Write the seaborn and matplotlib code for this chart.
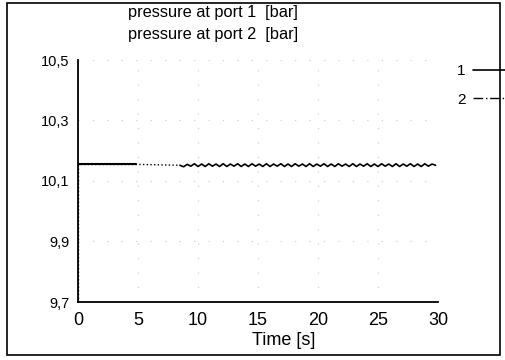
import numpy as np
import pandas as pd
import matplotlib
matplotlib.use("Agg")
import matplotlib.pyplot as plt
import seaborn as sns
from matplotlib.ticker import MultipleLocator
from matplotlib.lines import Line2D
from matplotlib.patches import Rectangle

# data
t_start = [0.0, 0.0, 4.8]
p1_start = [10.155, 10.155, 10.155]
p2_start = [9.7, 10.155, 10.155]

t_mid = [4.8, 8.5]
p2_mid = [10.155, 10.152]

t_wave = [8.5, 8.8, 9.1, 9.4, 9.7, 10.0, 10.3, 10.6, 10.9, 11.2, 11.5, 11.8,
          12.1, 12.4, 12.7, 13.0, 13.3, 13.6, 13.9, 14.2, 14.5, 14.8, 15.1, 15.4,
          15.7, 16.0, 16.3, 16.6, 16.9, 17.2, 17.5, 17.8, 18.1, 18.4, 18.7, 19.0,
          19.3, 19.6, 19.9, 20.2, 20.5, 20.8, 21.1, 21.4, 21.7, 22.0, 22.3, 22.6,
          22.9, 23.2, 23.5, 23.8, 24.1, 24.4, 24.7, 25.0, 25.3, 25.6, 25.9, 26.2,
          26.5, 26.8, 27.1, 27.4, 27.7, 28.0, 28.3, 28.6, 28.9, 29.2, 29.5, 29.8]
p_wave = [10.152, 10.147, 10.155, 10.149, 10.157, 10.148, 10.156, 10.148, 10.157, 10.149, 10.156, 10.148,
          10.157, 10.148, 10.156, 10.149, 10.157, 10.148, 10.156, 10.148, 10.157, 10.149, 10.156, 10.148,
          10.157, 10.148, 10.156, 10.149, 10.157, 10.148, 10.156, 10.148, 10.157, 10.149, 10.156, 10.148,
          10.157, 10.148, 10.156, 10.149, 10.157, 10.148, 10.156, 10.148, 10.157, 10.149, 10.156, 10.148,
          10.157, 10.148, 10.156, 10.149, 10.157, 10.148, 10.156, 10.148, 10.157, 10.149, 10.156, 10.148,
          10.157, 10.148, 10.156, 10.149, 10.157, 10.148, 10.156, 10.148, 10.157, 10.149, 10.156, 10.152]

y_ticks = [9.7, 9.9, 10.1, 10.3, 10.5]
y_tick_labels = ["9,7", "9,9", "10,1", "10,3", "10,5"]
x_ticks = [0, 5, 10, 15, 20, 25, 30]
series_labels = ["1", "2"]
titles = ["pressure at port 1  [bar]", "pressure at port 2  [bar]"]

sns.set_style("white")
plt.rcParams["font.family"] = ["Liberation Sans", "DejaVu Sans"]
plt.rcParams["text.color"] = "black"

fig = plt.figure(figsize=(5.05, 3.6), dpi=100)
ax = fig.add_axes([78 / 505, 1 - 302 / 360, 360 / 505, 242 / 360])

# port 2 (dotted)
sns.lineplot(x=t_start, y=p2_start, ax=ax, sort=False, estimator=None,
             color="black", linestyle=":", linewidth=1.0)
sns.lineplot(x=t_mid, y=p2_mid, ax=ax, sort=False, estimator=None,
             color="black", linestyle=":", linewidth=1.0)
# port 1 (solid)
sns.lineplot(x=t_start[1:], y=p1_start[1:], ax=ax, sort=False, estimator=None,
             color="black", linewidth=1.5)
sns.lineplot(x=t_wave, y=p_wave, ax=ax, sort=False, estimator=None,
             color="black", linewidth=1.2)

ax.set_xlim(0, 30)
ax.set_ylim(9.7, 10.5)
ax.set_xticks(x_ticks)
ax.set_xticklabels([str(v) for v in x_ticks])
ax.set_yticks(y_ticks)
ax.set_yticklabels(y_tick_labels)
ax.xaxis.set_minor_locator(MultipleLocator(1))
ax.yaxis.set_minor_locator(MultipleLocator(0.05))

for s in ["top", "right"]:
    ax.spines[s].set_visible(False)
for s in ["left", "bottom"]:
    ax.spines[s].set_color("black")
    ax.spines[s].set_linewidth(1.3)

ax.tick_params(axis="both", which="major", direction="out", length=5, width=1.2,
               colors="black", labelcolor="black")
ax.tick_params(axis="both", which="minor", direction="in", length=3, width=1.0, colors="black")
ax.tick_params(axis="y", labelsize=10.5, pad=1)
ax.tick_params(axis="x", labelsize=13, pad=2)
ax.grid(True, which="major", color="#c8c8c8", linestyle=(0, (1, 12)), linewidth=0.8)

ax.set_xlabel("Time [s]", fontsize=13, color="black")
ax.xaxis.set_label_coords(0.57, -0.125)
ax.set_ylabel("")

fig.text(128 / 505, 1 - 13 / 360, titles[0], fontsize=11.8, va="center", ha="left")
fig.text(128 / 505, 1 - 34 / 360, titles[1], fontsize=11.8, va="center", ha="left")

handles = [Line2D([], [], color="black", linewidth=1.2),
           Line2D([], [], color="black", linestyle=(0, (7, 2, 1, 2)), linewidth=1.0)]
ax.legend(handles, series_labels, loc="upper left", bbox_to_anchor=(1.015, 1.04),
          frameon=False, markerfirst=False, fontsize=11, handlelength=2.8,
          handletextpad=0.5, labelspacing=0.95)

fig.patches.append(Rectangle((7 / 505, 1 - 355 / 360), 493 / 505, 352 / 360,
                             transform=fig.transFigure, fill=False,
                             edgecolor="black", linewidth=1.2))

fig.savefig("out.png", dpi=100)
